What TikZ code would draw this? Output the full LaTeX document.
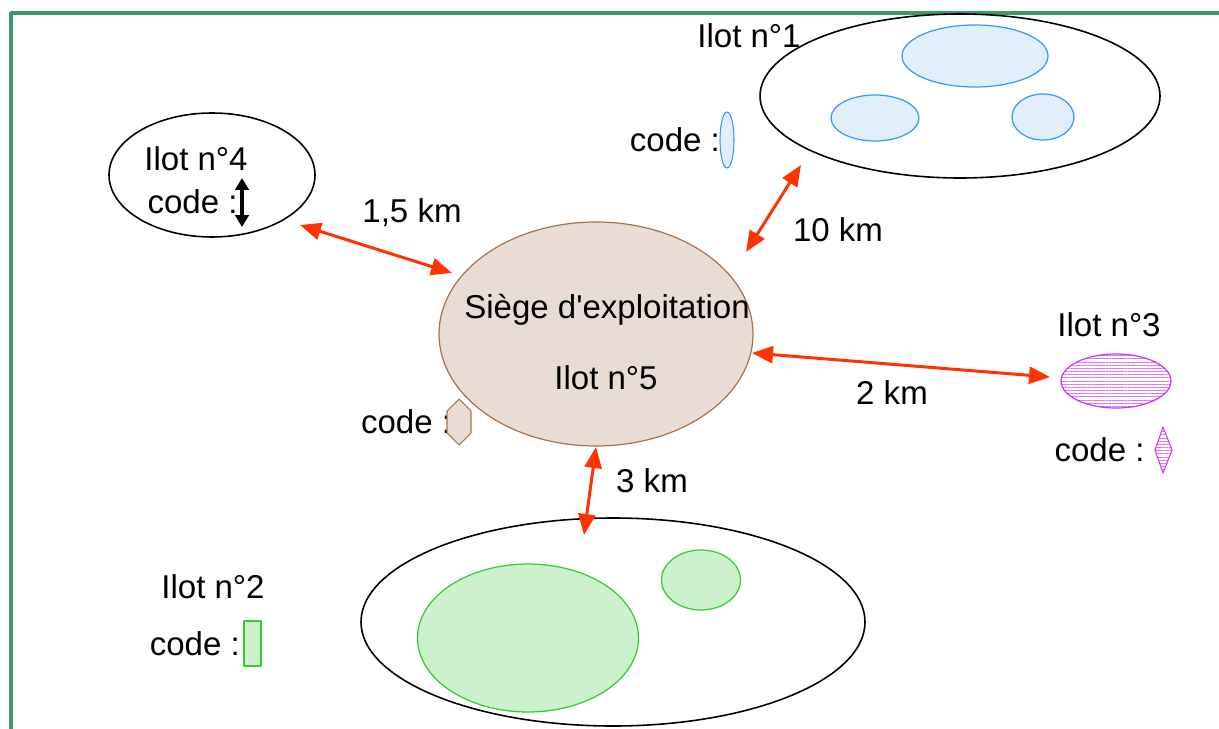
\documentclass[tikz,border=0pt]{standalone}
\usepackage{fontspec}
\setmainfont{Liberation Sans}
\usetikzlibrary{arrows.meta,patterns,patterns.meta,positioning,shapes.geometric}

\definecolor{framegreen}{HTML}{3A9A68}
\definecolor{linkred}{HTML}{FF3300}
\definecolor{bluedge}{HTML}{3399FF}
\definecolor{bluefill}{HTML}{E2EEFC}
\definecolor{brownedge}{HTML}{A87450}
\definecolor{brownfill}{HTML}{E8DCD4}
\definecolor{greenedge}{HTML}{33CC33}
\definecolor{greenfill}{HTML}{CDF0CD}
\definecolor{magedge}{HTML}{CC33FF}
\definecolor{magline}{HTML}{DD77FF}

\begin{document}
\begin{tikzpicture}[x=0.02cm,y=-0.02cm,line join=round,
  every node/.style={font=\fontsize{18.8}{22}\selectfont},
  island/.style={ellipse,draw=black,line width=0.9pt,inner sep=0pt},
  patch/.style={ellipse,inner sep=0pt,line width=0.7pt},
  hatched/.style={pattern={Lines[angle=0,distance=1.8pt,line width=0.55pt]},pattern color=magline},
  link/.style={draw=linkred,line width=1.7pt,{Triangle[length=0.42cm,width=0.34cm]}-{Triangle[length=0.42cm,width=0.34cm]}}
]
  \useasboundingbox (0,0) rectangle (1219,729);

  % frame
  \draw[framegreen,line width=2.2pt] (11,729) -- (11,13) -- (1219,13);

  % #1 name, #2 centre, #3 width, #4 height (pixels)
  \newcommand{\ovalnode}[5][]{
    \node[#1,minimum width=#4*0.02cm,minimum height=#5*0.02cm] (#2) at #3 {};
  }

  % islands
  \ovalnode[island]{isl4}{(212,175)}{206}{124}
  \ovalnode[island]{isl1}{(960,96)}{400}{164}
  \ovalnode[island]{isl2}{(613,622)}{504}{208}
  \ovalnode[patch,draw=brownedge,fill=brownfill]{isl5}{(596,334)}{314}{224}
  \ovalnode[patch,draw=magedge,hatched]{isl3}{(1116,381)}{110}{54}

  % parcels
  \ovalnode[patch,draw=bluedge,fill=bluefill]{p1a}{(975,56)}{146}{62}
  \ovalnode[patch,draw=bluedge,fill=bluefill]{p1b}{(875,118)}{88}{46}
  \ovalnode[patch,draw=bluedge,fill=bluefill]{p1c}{(1043,117)}{62}{46}
  \ovalnode[patch,draw=greenedge,fill=greenfill]{p2a}{(528,638)}{221}{148}
  \ovalnode[patch,draw=greenedge,fill=greenfill]{p2b}{(701,580)}{79}{60}

  % titles
  \node (t4) at (196,159) {Ilot n°4};
  \node (t1) at (749,36) {Ilot n°1};
  \node (t3) at (1109,325) {Ilot n°3};
  \node (t2) at (213,587) {Ilot n°2};
  \node (t5a) at (607,310) {Siège d\textquotesingle exploitation};
  \node (t5b) at (606,378) {Ilot n°5};

  % codes
  \coordinate (c4) at (242,202);
  \coordinate (c1) at (727,140);
  \coordinate (c5) at (459,422);
  \coordinate (c3) at (1163,450);
  \coordinate (c2) at (253,644);

  \node[left=-1pt of c4] (k4) {code :};
  \node[left=0.5pt of c1] (k1) {code :};
  \node[left=1pt of c5] (k5) {code :};
  \node[left=7pt of c3] (k3) {code :};
  \node[left=4pt of c2] (k2) {code :};

  \draw[line width=2.8pt,{Triangle[length=0.24cm,width=0.27cm]}-{Triangle[length=0.24cm,width=0.27cm]}] (242,178) -- (242,227);
  \draw[bluedge,fill=bluefill,line width=0.6pt] (c1) ellipse (7 and 28);
  \draw[brownedge,fill=brownfill,line width=0.6pt] (459,399) -- (471,411) -- (471,433) -- (459,445) -- (447,433) -- (447,411) -- cycle;
  \draw[magedge,hatched,line width=0.6pt] (1163,427) -- (1172,450) -- (1163,473) -- (1155,450) -- cycle;
  \draw[greenedge,fill=greenfill,line width=0.6pt] (244,621) rectangle (261,666);

  % distances
  \coordinate (a4) at (300,225);
  \coordinate (b4) at (452,273);
  \coordinate (a1) at (801,165);
  \coordinate (b1) at (746,252);
  \coordinate (a3) at (1050,377);
  \coordinate (b3) at (752,353);
  \coordinate (a2) at (584,535);
  \coordinate (b2) at (596,447);

  \draw[link] (a4) -- (b4);
  \draw[link] (a1) -- (b1);
  \draw[link] (b3) -- (a3);
  \draw[link] (b2) -- (a2);

  \node (d4) at (412,213) {1,5 km};
  \node (d1) at (838,230) {10 km};
  \node (d3) at (892,393) {2 km};
  \node (d2) at (652,481) {3 km};

\end{tikzpicture}
\end{document}
